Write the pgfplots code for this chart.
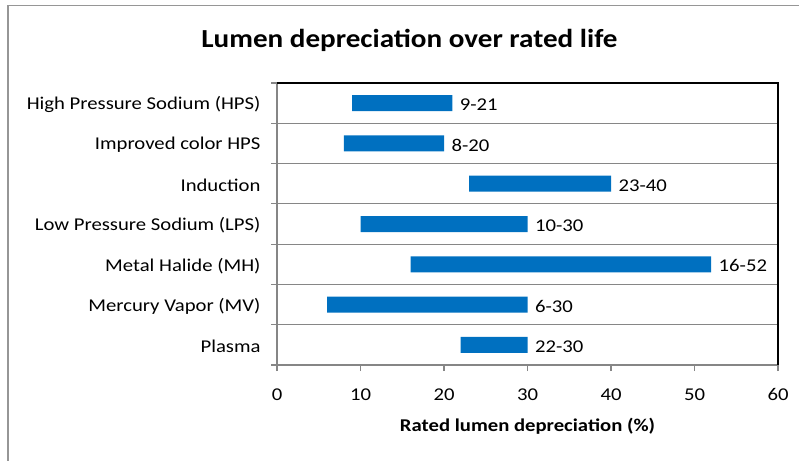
\documentclass[border=0pt]{standalone}
\usepackage{fontspec}
\setmainfont{Carlito}
\usepackage{graphicx}
\usepackage{pgfplots}
\pgfplotsset{compat=1.18}
\newcommand{\sx}[1]{\scalebox{1.15}[1]{#1}}
\definecolor{barblue}{RGB}{0,112,192}
\definecolor{gridgray}{RGB}{134,134,134}
\definecolor{framegray}{RGB}{150,150,150}
\pgfplotsset{geom/.style={
  at={(277pt,-365pt)}, anchor=south west,
  scale only axis, width=501pt, height=282pt,
  xmin=0, xmax=60, ymin=-0.5, ymax=6.5, y dir=reverse}}
\begin{document}
\begin{tikzpicture}[x=1pt,y=1pt]
\path[use as bounding box] (0,0) rectangle (799,-460);
\draw[framegray, line width=1.5pt] (8,-462) -- (8,-5.5) -- (801,-5.5);
\node[font=\fontsize{26}{30}\selectfont\bfseries] at (409.5,-40) {\scalebox{1.12}[1]{Lumen depreciation over rated life}};
\begin{axis}[
  geom,
  xbar stacked, bar width=16pt,
  axis line style={draw=none},
  tick align=outside, major tick length=6pt,
  xtick={0,10,...,60},
  xticklabels={\sx{0},\sx{10},\sx{20},\sx{30},\sx{40},\sx{50},\sx{60}},
  xtick pos=bottom, ytick pos=left,
  xtick style={draw=gridgray, line width=1.2pt},
  ytick style={draw=gridgray, line width=1.2pt},
  ytick={-0.5,0.5,...,6.5}, yticklabels={},
  ymajorgrids, major grid style={draw=gridgray, line width=1.2pt},
  extra y ticks={0,1,2,3,4,5,6},
  extra y tick labels={\sx{High Pressure Sodium (HPS)},\sx{Improved color HPS},\sx{Induction},\sx{Low Pressure Sodium (LPS)},\sx{Metal Halide (MH)},\sx{Mercury Vapor (MV)},\sx{Plasma}},
  extra y tick style={major tick length=0pt, grid=none, yticklabel style={xshift=-13pt, yshift=-1.5pt}},
  ticklabel style={font=\fontsize{18}{21}\selectfont, text=black},
  xticklabel style={yshift=-14pt},
  xlabel={\sx{Rated lumen depreciation (\%)}},
  xlabel style={font=\fontsize{18}{21}\selectfont\bfseries, yshift=-10pt},
  after end axis/.code={
    \draw[gridgray, line width=1.2pt] (axis cs:0,-0.5) -- (axis cs:0,6.5) -- (axis cs:60,6.5);
    \draw[black, line width=1.2pt] (axis cs:0,-0.5) -- (axis cs:60,-0.5) -- (axis cs:60,6.5);
  },
]
% lower value of each range (invisible offset)
\addplot[draw=none, fill=none] coordinates {(9,0) (8,1) (23,2) (10,3) (16,4) (6,5) (22,6)};
% range width (upper - lower)
\addplot[draw=none, fill=barblue]
  coordinates {(12,0) (12,1) (17,2) (20,3) (36,4) (24,5) (8,6)};
\end{axis}
\begin{axis}[geom, hide axis, xbar=0pt, bar width=16pt, bar shift=0pt]
% labels at the upper value of each range
\addplot[draw=none, fill=none,
  point meta=explicit symbolic,
  nodes near coords={\sx{\pgfplotspointmeta}},
  every node near coord/.append style={anchor=west, font=\fontsize{18}{21}\selectfont, text=black, xshift=4pt, yshift=-1.5pt}]
  coordinates {(21,0) [9-21] (20,1) [8-20] (40,2) [23-40] (30,3) [10-30] (52,4) [16-52] (30,5) [6-30] (30,6) [22-30]};
\end{axis}
\end{tikzpicture}
\end{document}
